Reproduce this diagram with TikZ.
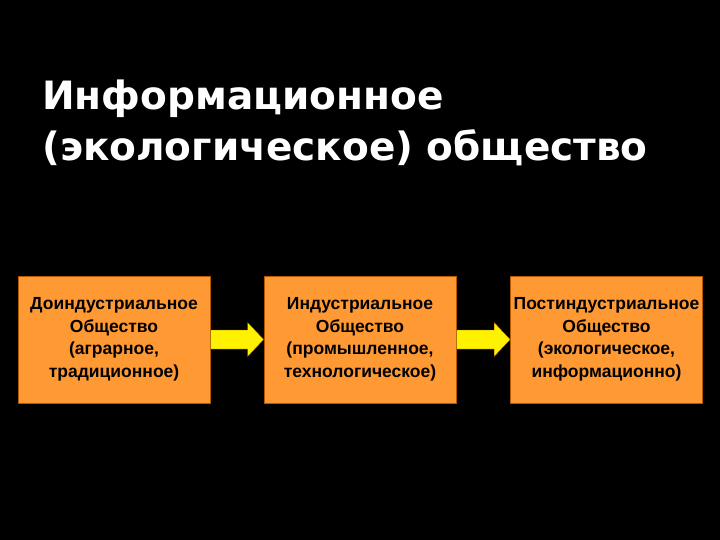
\documentclass[tikz,border=0pt]{standalone}
\usepackage{fontspec}
\setmainfont{Liberation Sans}
\newfontfamily\titlefont{DejaVu Sans}
\definecolor{boxor}{HTML}{FF9933}
\begin{document}
\begin{tikzpicture}[x=1pt,y=-1pt,
  boxst/.style={fill=boxor, draw=orange!70!black, line width=0.6pt, minimum width=192pt, minimum height=127pt, align=center, font=\fontsize{17.5}{22.5}\selectfont\bfseries, inner sep=0pt},
  arr/.style={fill=yellow, draw=orange!60!black, line width=0.4pt}]
\fill[black] (0,0) rectangle (720,540);
\useasboundingbox (0,0) rectangle (720,540);
\node[anchor=north west, align=left, text=white, inner sep=0pt, font=\titlefont\fontsize{39}{51}\selectfont\bfseries] (title) at (42,80) {Информационное\\(экологическое) общество};
\node[boxst] (b1) at (114,339.5) {Доиндустриальное\\Общество\\(аграрное,\\традиционное)};
\node[boxst] (b2) at (360,339.5) {Индустриальное\\Общество\\(промышленное,\\технологическое)};
\node[boxst] (b3) at (606.5,339.5) {Постиндустриальное\\Общество\\(экологическое,\\информационно)};
\foreach \a/\b in {b1/b2,b2/b3}{
  \path (\a.east) coordinate (s) (\b.west) coordinate (e);
  \filldraw[arr] ([yshift=-9.5]s) -- ([xshift=-16,yshift=-9.5]e) -- ([xshift=-16,yshift=-17]e) -- (e) -- ([xshift=-16,yshift=17]e) -- ([xshift=-16,yshift=9.5]e) -- ([yshift=9.5]s) -- cycle;
}
\end{tikzpicture}
\end{document}
